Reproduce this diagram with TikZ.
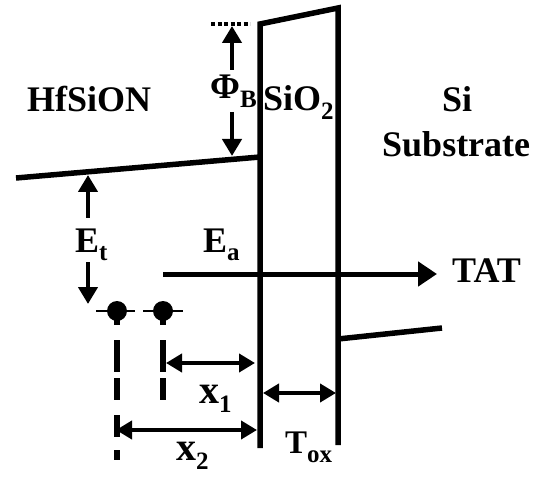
\documentclass[tikz,border=0pt]{standalone}
\usepackage{fontspec}
\setmainfont{Liberation Serif}
\usetikzlibrary{arrows.meta}
\newcommand\sbx[1]{\raisebox{-9pt}{\fontsize{25}{25}\selectfont #1}}
\begin{document}
\begin{tikzpicture}[x=1pt,y=-1pt,
  lbl/.style={inner sep=0pt, anchor=base west, font=\fontsize{36}{40}\selectfont\bfseries},
  biglbl/.style={lbl, font=\fontsize{40}{44}\selectfont\bfseries},
  smalllbl/.style={lbl, font=\fontsize{33}{36}\selectfont\bfseries},
  band/.style={line width=5.5pt, line join=miter},
  arr/.style={line width=4.5pt, -{Triangle[length=17pt,width=19pt]}},
  bigarr/.style={line width=5pt, -{Triangle[length=19pt,width=24pt]}},
  darr/.style={line width=4.5pt, {Triangle[length=16pt,width=18pt]}-{Triangle[length=16pt,width=18pt]}},
  trap/.style={circle, fill=black, inner sep=0pt, minimum size=20pt},
  trapline/.style={line width=2.5pt},
  trapdash/.style={line width=6pt, dash pattern=on 14pt off 15pt on 32pt off 6pt on 22pt off 15pt on 22pt off 13pt on 10pt off 40pt},
  dotline/.style={line width=4pt, dash pattern=on 4pt off 2.5pt}]
\useasboundingbox (0,0) rectangle (543,478);

% coordinates of the band diagram
\coordinate (hfL) at (16,178);
\coordinate (hfR) at (260,157);
\coordinate (oxLB) at (260,448);
\coordinate (oxLT) at (260,24);
\coordinate (oxRT) at (338,8);
\coordinate (oxRB) at (338,445);
\coordinate (siL) at (338,339);
\coordinate (siR) at (442,328);

% bands and oxide
\draw[band] (hfL) -- (hfR);
\draw[band] (oxLB) -- (oxLT) -- (oxRT) -- (oxRB);
\draw[band] (siL) -- (siR);

% dotted reference line
\coordinate (dotA) at (211,24);
\coordinate (dotB) at (250,24);
\draw[dotline] (dotA) -- (dotB);

% labels
\node[lbl] (hfsion) at (27,112) {HfSiON};
\node[lbl] (phib) at (210,99) {Φ\sbx{B}};
\node[lbl] (sio2) at (263,111) {SiO\sbx{2}};
\node[lbl] (si) at (442,112) {Si};
\node[lbl] (subst) at (382,157) {Substrate};
\node[lbl] (tat) at (452,283) {TAT};
\node[lbl] (et) at (75,252) {E\sbx{t}};
\node[lbl] (ea) at (203,252) {E\sbx{a}};
\node[biglbl] (x1) at (199,403) {x\sbx{1}};
\node[biglbl] (x2) at (176,460) {x\sbx{2}};
\node[smalllbl] (tox) at (285,453) {T\sbx{ox}};

% Phi_B arrows
\coordinate (pbU0) at (232,70);
\coordinate (pbU1) at (232,26);
\coordinate (pbD0) at (232,112);
\coordinate (pbD1) at (232,156);
\draw[arr] (pbU0) -- (pbU1);
\draw[arr] (pbD0) -- (pbD1);

% E_t arrows
\coordinate (etU0) at (88,218);
\coordinate (etU1) at (88,175);
\coordinate (etD0) at (88,262);
\coordinate (etD1) at (88,304);
\draw[arr] (etU0) -- (etU1);
\draw[arr] (etD0) -- (etD1);

% TAT arrow
\coordinate (tat0) at (163,274);
\coordinate (tat1) at (437,274);
\draw[bigarr] (tat0) -- (tat1);

% traps
\node[trap] (t1) at (117,311) {};
\node[trap] (t2) at (163,311) {};
\draw[trapline] (96,311) -- (135,311);
\draw[trapline] (143,311) -- (183,311);
\coordinate (t1end) at (117,460);
\coordinate (t2end) at (163,400);
\draw[trapdash] (t1.center) -- (t1end);
\draw[trapdash] (t2.center) -- (t2end);

% distance arrows
\coordinate (x1a) at (166,363);
\coordinate (x1b) at (255,363);
\draw[darr] (x1a) -- (x1b);
\coordinate (x2a) at (116,430);
\coordinate (x2b) at (257,430);
\draw[darr] (x2a) -- (x2b);
\coordinate (toxa) at (263,393);
\coordinate (toxb) at (336,393);
\draw[darr] (toxa) -- (toxb);
\end{tikzpicture}
\end{document}
